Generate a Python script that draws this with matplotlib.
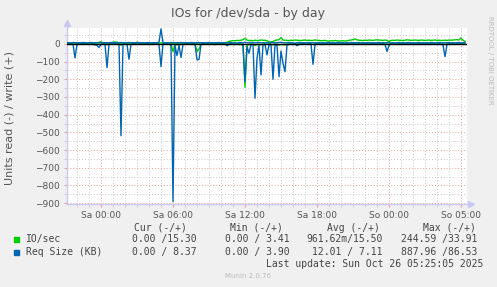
import numpy as np
import matplotlib
matplotlib.use("Agg")
import matplotlib.pyplot as plt
from matplotlib.lines import Line2D

# 10 minute samples, hours relative to Sa 00:00
t_start = -17 / 6.0
step = 1 / 6.0

# IO/sec, read (drawn negative) and write
io_read = [0, 0, 0, 0, 2, 0, 0, 0, 0, 0, 0, 0, 0, 0, 1, 2, 3, 1, 0, 0,
           4, 0, 0, 0, 0, 0, 0, 6, 0, 0, 0, 3, 0, 0, 0, 0, 0, 0, 0, 0,
           0, 0, 0, 0, 0, 0, 0, 3, 0, 0, 0, 0, 2, 43, 4, 5, 2, 4, 0, 0,
           0, 0, 0, 0, 2, 43, 30, 0, 0, 0, 0, 0, 0, 0, 1, 0, 0, 0, 0, 0,
           2, 0, 0, 0, 1, 0, 0, 0, 2, 245, 6, 4, 1, 2, 8, 4, 2, 6, 1, 0,
           3, 0, 1, 5, 1, 2, 6, 3, 4, 5, 1, 0, 0, 0, 0, 1, 0, 0, 0, 0,
           0, 0, 0, 3, 0, 0, 0, 0, 0, 0, 0, 0, 0, 0, 0, 0, 0, 0, 0, 0,
           0, 0, 0, 0, 0, 0, 0, 0, 0, 0, 0, 0, 0, 0, 0, 0, 0, 0, 0, 0,
           2, 0, 0, 0, 0, 0, 0, 0, 0, 0, 0, 0, 0, 0, 0, 0, 0, 0, 0, 0,
           0, 0, 0, 0, 0, 0, 0, 0, 1, 3, 0, 0, 0, 0, 0, 0, 0, 0, 0, 0]
io_write = [4, 3, 4, 5, 4, 3, 4, 5, 4, 4, 3, 4, 5, 4, 4, 6, 9, 12, 6, 4,
            4, 5, 4, 10, 11, 10, 5, 4, 4, 5, 4, 5, 4, 4, 5, 10, 5, 4, 4, 5,
            4, 5, 4, 4, 5, 4, 4, 6, 4, 5, 4, 4, 5, 4, 5, 4, 4, 5, 4, 4,
            5, 4, 4, 5, 4, 4, 5, 4, 6, 4, 5, 4, 5, 4, 4, 5, 4, 6, 5, 7,
            9, 14, 17, 19, 18, 20, 19, 21, 24, 32, 22, 19, 20, 18, 21, 19, 20, 22, 21, 20,
            18, 12, 11, 13, 20, 22, 24, 36, 22, 21, 20, 19, 21, 20, 22, 21, 20, 19, 21, 22,
            20, 21, 19, 20, 22, 21, 20, 18, 19, 20, 17, 16, 18, 17, 19, 18, 16, 17, 18, 16,
            18, 20, 22, 24, 28, 23, 21, 20, 19, 21, 20, 22, 21, 20, 22, 23, 22, 21, 20, 22,
            20, 14, 19, 21, 20, 22, 21, 20, 19, 21, 23, 22, 20, 21, 22, 21, 20, 22, 21, 20,
            21, 22, 20, 21, 22, 20, 21, 19, 20, 21, 20, 22, 21, 22, 23, 24, 22, 34, 20, 15]

# Req Size (KB), read (drawn negative) and write
req_read = [2, 0, 3, 0, 79, 2, 0, 3, 0, 2, 0, 4, 0, 3, 5, 8, 20, 4, 0, 2,
            134, 3, 0, 2, 0, 3, 0, 519, 2, 0, 3, 87, 2, 0, 3, 0, 2, 0, 3, 0,
            2, 0, 3, 0, 2, 0, 3, 128, 0, 2, 0, 3, 5, 892, 10, 66, 8, 77, 3, 0,
            2, 0, 3, 0, 2, 90, 88, 3, 0, 2, 0, 3, 0, 2, 4, 0, 2, 0, 3, 0,
            10, 3, 0, 2, 4, 0, 3, 2, 8, 213, 15, 53, 4, 6, 307, 81, 8, 175, 5, 3,
            62, 4, 6, 200, 5, 8, 185, 40, 109, 157, 6, 3, 2, 4, 0, 10, 3, 0, 2, 0,
            3, 0, 2, 115, 4, 0, 2, 3, 0, 2, 0, 3, 0, 2, 0, 3, 0, 2, 0, 3,
            0, 2, 0, 3, 0, 2, 0, 3, 0, 2, 0, 3, 0, 2, 0, 3, 0, 2, 0, 3,
            43, 8, 0, 2, 0, 3, 0, 2, 0, 3, 0, 2, 0, 3, 0, 2, 0, 3, 0, 2,
            0, 3, 0, 2, 0, 3, 0, 2, 6, 72, 4, 0, 2, 0, 3, 0, 2, 0, 3, 0]
req_write = [6, 7, 6, 8, 7, 6, 7, 6, 8, 7, 6, 7, 8, 6, 7, 6, 7, 8, 6, 7,
             7, 6, 8, 7, 6, 7, 6, 8, 7, 6, 7, 8, 6, 7, 6, 7, 8, 6, 7, 6,
             7, 8, 6, 7, 6, 7, 9, 85, 8, 6, 7, 6, 7, 8, 6, 7, 6, 8, 7, 6,
             7, 6, 8, 7, 6, 7, 8, 6, 7, 6, 7, 8, 6, 7, 6, 7, 8, 6, 7, 6,
             6, 7, 8, 6, 7, 5, 7, 8, 6, 9, 7, 6, 8, 7, 6, 7, 8, 6, 7, 6,
             7, 6, 8, 7, 6, 7, 8, 9, 7, 6, 7, 8, 6, 7, 4, 7, 8, 6, 7, 6,
             7, 8, 6, 7, 6, 7, 8, 6, 7, 6, 7, 8, 6, 7, 6, 7, 8, 6, 7, 6,
             7, 6, 8, 7, 6, 7, 8, 6, 7, 6, 7, 8, 6, 7, 6, 7, 8, 6, 7, 6,
             7, 8, 6, 7, 6, 7, 8, 6, 7, 6, 7, 8, 6, 7, 6, 7, 8, 6, 7, 6,
             7, 6, 8, 7, 6, 7, 8, 6, 7, 6, 7, 8, 6, 7, 6, 7, 8, 6, 7, 8]

xtick_pos = [0, 6, 12, 18, 24, 30]
xtick_labels = ["Sa 00:00", "Sa 06:00", "Sa 12:00", "Sa 18:00", "So 00:00", "So 05:00"]

legend_names = ["IO/sec", "Req Size (KB)"]
legend_cur = ["0.00 /15.30", "0.00 / 8.37"]
legend_min = ["0.00 / 3.41", "0.00 / 3.90"]
legend_avg = ["961.62m/15.50", "12.01 / 7.11"]
legend_max = ["244.59 /33.91", "887.96 /86.53"]

GREEN = "#00CC00"
BLUE = "#0066B3"
W, H = 497, 287


def px(x, y):
    return x / W, 1 - y / H


t = t_start + np.arange(len(io_read)) * step

fig = plt.figure(figsize=(W / 100, H / 100), dpi=100)
fig.patch.set_facecolor("#F0F0F0")
ax = fig.add_axes([67 / W, 83 / H, 400 / W, 176 / H])
ax.set_facecolor("white")

ax.plot(t, -np.array(io_read), color=GREEN, lw=1.0, zorder=3)
ax.plot(t, io_write, color=GREEN, lw=1.0, zorder=3)
ax.plot(t, -np.array(req_read), color=BLUE, lw=1.0, zorder=4)
ax.plot(t, req_write, color=BLUE, lw=1.0, zorder=4)
ax.axhline(0, color="black", lw=1.0, zorder=5)

ax.set_xlim(t_start, 30.5)
ax.set_ylim(-905, 90)

ax.set_yticks(range(-900, 1, 100))
ax.set_yticks(range(-850, 90, 100), minor=True)
ax.set_xticks(xtick_pos)
ax.set_xticklabels(xtick_labels)
ax.set_xticks(np.arange(-2, 31, 1), minor=True)

ax.grid(which="major", color="#E8A0A0", lw=0.7, linestyle=(0, (1, 2)), zorder=1)
ax.grid(which="minor", color="#C8C8C8", lw=0.7, linestyle=(0, (1, 2)), zorder=1)
ax.set_axisbelow(True)

ax.tick_params(which="major", length=2, color="#E8A0A0", labelsize=6.5,
               labelcolor="#555555", pad=3)
ax.tick_params(which="minor", length=2, color="#C8C8C8")

for s in ["top", "right"]:
    ax.spines[s].set_visible(False)
for s in ["left", "bottom"]:
    ax.spines[s].set_color("#C8C8F0")
    ax.spines[s].set_linewidth(1.0)

# axis arrows
fig.add_artist(Line2D([px(67, 0)[0]] * 2, [px(0, 28)[1], px(0, 22)[1]], color="#C8C8F0", lw=1.0))
fig.add_artist(Line2D([px(467, 0)[0], px(472, 0)[0]], [px(0, 204)[1]] * 2, color="#C8C8F0", lw=1.0))
fig.add_artist(Line2D([px(67, 0)[0]], [px(0, 23)[1]], marker="^", ms=4, color="#C8C8F0", lw=0))
fig.add_artist(Line2D([px(471, 0)[0]], [px(0, 204)[1]], marker=">", ms=4, color="#C8C8F0", lw=0))

fig.text(*px(248, 13), "IOs for /dev/sda - by day", ha="center", va="center",
         fontsize=9, color="#555555")
fig.text(*px(10, 118), "Units read (-) / write (+)", rotation=90, ha="center",
         va="center", fontsize=8, color="#555555")
fig.text(*px(490, 60), "RRDTOOL / TOBI OETIKER", rotation=270, ha="center",
         va="center", fontsize=5, color="#BBBBBB")

mono = dict(family="DejaVu Sans Mono", fontsize=7, color="#444444", va="center")
cols = [197, 290, 383, 477]
heads = ["Cur (-/+)", "Min (-/+)", "Avg (-/+)", "Max (-/+)"]
head_x = [187, 283, 380, 476]
for hx, h in zip(head_x, heads):
    fig.text(*px(hx, 228), h, ha="right", **mono)

rows_y = [239, 252]
colors = [GREEN, BLUE]
for k in range(2):
    y = rows_y[k]
    fig.add_artist(plt.Rectangle(px(14, y + 2.5), 5 / W, 5 / H, color=colors[k],
                                 transform=fig.transFigure))
    fig.text(*px(26, y), legend_names[k], ha="left", **mono)
    for cx, vals in zip(cols, [legend_cur, legend_min, legend_avg, legend_max]):
        fig.text(*px(cx, y), vals[k], ha="right", **mono)

fig.text(*px(483, 264), "Last update: Sun Oct 26 05:25:05 2025", ha="right", **mono)
fig.text(*px(248, 276), "Munin 2.0.76", ha="center", va="center", fontsize=5,
         color="#BBBBBB")

fig.savefig("out.png", dpi=100, facecolor=fig.get_facecolor())
